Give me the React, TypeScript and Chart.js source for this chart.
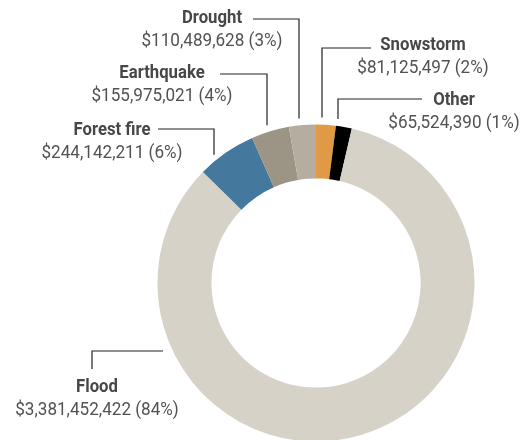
import React, { useEffect, useRef } from "react";
import { Chart, registerables } from "chart.js";

Chart.register(...registerables);

const categories = ["Snowstorm", "Other", "Flood", "Forest fire", "Earthquake", "Drought"];
const values = [81125497, 65524390, 3381452422, 244142211, 155975021, 110489628];
const percentLabels = ["2%", "1%", "84%", "6%", "4%", "3%"];
const colors = ["#e09a45", "#000000", "#d6d2c8", "#44789c", "#9c9585", "#b5ad9f"];

// label layout: vertical leader x, elbow y, horizontal end x, text center x, title mid y
const layout: Record<string, { lx: number; ey: number; hx: number; tx: number; ty: number; endY?: number }> = {
  Drought: { lx: 299, ey: 19, hx: 253, tx: 212, ty: 18 },
  Earthquake: { lx: 267, ey: 74, hx: 220, tx: 162, ty: 73 },
  "Forest fire": { lx: 214, ey: 129, hx: 158, tx: 112, ty: 130 },
  Snowstorm: { lx: 322, ey: 48, hx: 371, tx: 423, ty: 45 },
  Other: { lx: 338, ey: 99, hx: 422, tx: 454, ty: 100 },
  Flood: { lx: 92, ey: 351, hx: 163, tx: 97, ty: 387, endY: 369 },
};

const fmt = (v: number) => "$" + v.toLocaleString("en-US");

const labelPlugin = {
  id: "leaderLabels",
  afterDraw(chart: any) {
    const ctx = chart.ctx;
    const meta = chart.getDatasetMeta(0);
    const arc0 = meta.data[0];
    const cx = arc0.x;
    const cy = arc0.y;
    const R = arc0.outerRadius;
    ctx.save();
    categories.forEach((name, i) => {
      const L = layout[name];
      if (!L) return;
      ctx.strokeStyle = "#222";
      ctx.lineWidth = 1.2;
      ctx.beginPath();
      if (name === "Flood") {
        ctx.moveTo(L.hx, L.ey);
        ctx.lineTo(L.lx, L.ey);
        ctx.lineTo(L.lx, L.endY as number);
      } else {
        const dx = L.lx - cx;
        const edgeY = cy - Math.sqrt(Math.max(R * R - dx * dx, 0));
        ctx.moveTo(L.hx, L.ey);
        ctx.lineTo(L.lx, L.ey);
        ctx.lineTo(L.lx, edgeY - 7);
      }
      ctx.stroke();

      ctx.textAlign = "center";
      ctx.textBaseline = "middle";
      ctx.save();
      ctx.translate(L.tx, L.ty);
      ctx.scale(0.88, 1);
      ctx.fillStyle = "#474747";
      ctx.font = "bold 19px Roboto";
      ctx.fillText(name, 0, 0);
      ctx.restore();
      ctx.save();
      ctx.translate(L.tx, L.ty + 23.5);
      ctx.scale(0.9, 1);
      ctx.fillStyle = "#525252";
      ctx.font = "19px Roboto";
      ctx.fillText(fmt(values[i]) + " (" + percentLabels[i] + ")", 0, 0);
      ctx.restore();
    });
    ctx.restore();
  },
};

export default function App() {
  const ref = useRef<HTMLCanvasElement>(null);
  useEffect(() => {
    if (!ref.current) return;
    const chart = new Chart(ref.current, {
      type: "doughnut",
      data: {
        labels: categories,
        datasets: [
          {
            data: values,
            backgroundColor: colors,
            borderWidth: 0,
          },
        ],
      },
      options: {
        animation: false,
        responsive: false,
        radius: 158.5,
        cutout: "66%",
        layout: { padding: { left: 105, right: 0, top: 126, bottom: 0 } },
        plugins: { legend: { display: false }, tooltip: { enabled: false } },
      },
      plugins: [labelPlugin],
    });
    return () => chart.destroy();
  }, []);
  return (
    <div style={{ position: "fixed", left: 0, top: 0, width: 527, height: 440, background: "#fff" }}>
      <canvas ref={ref} width={527} height={440} />
    </div>
  );
}
